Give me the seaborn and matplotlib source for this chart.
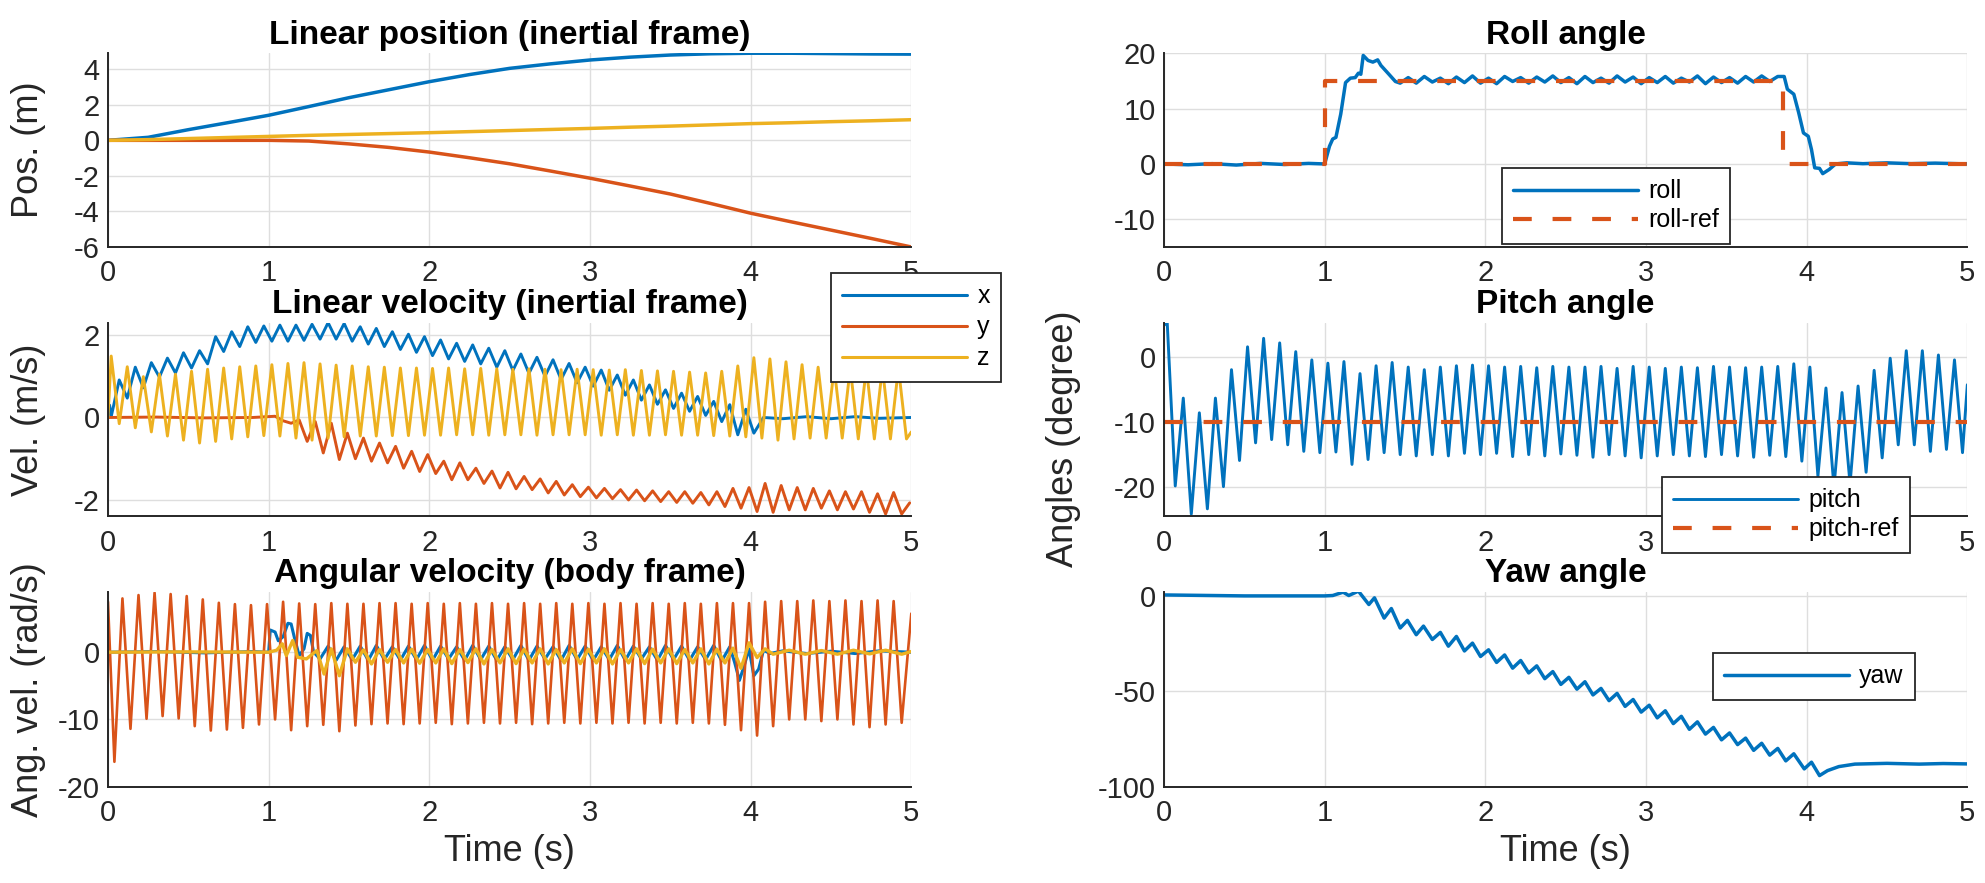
import matplotlib
matplotlib.use('Agg')
import matplotlib.pyplot as plt
from matplotlib.lines import Line2D
import seaborn as sns

BLUE, ORANGE, YELLOW = '#0072BD', '#D95319', '#EDB120'
INK = '#262626'

# ── extremum sample times (10 Hz ripple) ──────────────────────────
T_A = [0.02, 0.07, 0.12, 0.17, 0.22, 0.27, 0.32, 0.37, 0.42, 0.47,
       0.52, 0.57, 0.62, 0.67, 0.72, 0.77, 0.82, 0.87, 0.92, 0.97,
       1.02, 1.07, 1.12, 1.17, 1.22, 1.27, 1.32, 1.37, 1.42, 1.47,
       1.52, 1.57, 1.62, 1.67, 1.72, 1.77, 1.82, 1.87, 1.92, 1.97,
       2.02, 2.07, 2.12, 2.17, 2.22, 2.27, 2.32, 2.37, 2.42, 2.47,
       2.52, 2.57, 2.62, 2.67, 2.72, 2.77, 2.82, 2.87, 2.92, 2.97,
       3.02, 3.07, 3.12, 3.17, 3.22, 3.27, 3.32, 3.37, 3.42, 3.47,
       3.52, 3.57, 3.62, 3.67, 3.72, 3.77, 3.82, 3.87, 3.92, 3.97,
       4.02, 4.07, 4.12, 4.17, 4.22, 4.27, 4.32, 4.37, 4.42, 4.47,
       4.52, 4.57, 4.62, 4.67, 4.72, 4.77, 4.82, 4.87, 4.92, 4.97]
T_B = [0.04, 0.09, 0.14, 0.19, 0.24, 0.29, 0.34, 0.39, 0.44, 0.49,
       0.54, 0.59, 0.64, 0.69, 0.74, 0.79, 0.84, 0.89, 0.94, 0.99,
       1.04, 1.09, 1.14, 1.19, 1.24, 1.29, 1.34, 1.39, 1.44, 1.49,
       1.54, 1.59, 1.64, 1.69, 1.74, 1.79, 1.84, 1.89, 1.94, 1.99,
       2.04, 2.09, 2.14, 2.19, 2.24, 2.29, 2.34, 2.39, 2.44, 2.49,
       2.54, 2.59, 2.64, 2.69, 2.74, 2.79, 2.84, 2.89, 2.94, 2.99,
       3.04, 3.09, 3.14, 3.19, 3.24, 3.29, 3.34, 3.39, 3.44, 3.49,
       3.54, 3.59, 3.64, 3.69, 3.74, 3.79, 3.84, 3.89, 3.94, 3.99,
       4.04, 4.09, 4.14, 4.19, 4.24, 4.29, 4.34, 4.39, 4.44, 4.49,
       4.54, 4.59, 4.64, 4.69, 4.74, 4.79, 4.84, 4.89, 4.94, 4.99]

# ── linear position ───────────────────────────────────────────────
pos_t = [0.0, 0.25, 0.5, 0.75, 1.0, 1.25, 1.5, 1.75, 2.0, 2.25, 2.5,
         2.75, 3.0, 3.25, 3.5, 3.75, 4.0, 4.25, 4.5, 4.75, 5.0]
pos_x = [0.0, 0.17, 0.6, 1.0, 1.41, 1.9, 2.4, 2.85, 3.3, 3.7, 4.05,
         4.3, 4.52, 4.68, 4.8, 4.87, 4.9, 4.9, 4.88, 4.86, 4.85]
pos_y = [0.0, 0.0, 0.0, 0.0, 0.0, -0.04, -0.2, -0.4, -0.66, -0.98, -1.32,
         -1.72, -2.13, -2.57, -3.02, -3.55, -4.1, -4.58, -5.05, -5.52, -6.0]
pos_z = [0.0, 0.04, 0.1, 0.16, 0.22, 0.28, 0.33, 0.38, 0.43, 0.49, 0.55,
         0.61, 0.67, 0.74, 0.8, 0.87, 0.94, 0.99, 1.05, 1.1, 1.16]

# ── linear velocity ───────────────────────────────────────────────
velx_t = [0.0, 0.01] + T_A[0:81] + [4.08, 4.2, 4.35, 4.5, 4.65, 4.8, 5.0]
velx_v = [0.05, 0.3,
          0.02, 0.91, 0.47, 1.22, 0.72, 1.33, 0.98, 1.44, 1.08, 1.57,
          1.20, 1.62, 1.30, 1.96, 1.60, 2.08, 1.72, 2.20, 1.82, 2.22,
          1.85, 2.24, 1.85, 2.24, 1.87, 2.26, 1.90, 2.30, 1.90, 2.28,
          1.85, 2.20, 1.78, 2.16, 1.72, 2.08, 1.65, 2.02, 1.58, 1.96,
          1.50, 1.88, 1.42, 1.80, 1.36, 1.76, 1.30, 1.68, 1.22, 1.62,
          1.14, 1.54, 1.07, 1.46, 1.00, 1.40, 0.92, 1.31, 0.84, 1.22,
          0.76, 1.15, 0.66, 1.03, 0.54, 0.91, 0.42, 0.79, 0.32, 0.67,
          0.22, 0.59, 0.15, 0.51, 0.05, 0.39, -0.10, 0.31, -0.42, 0.20,
          -0.38,
          0.0, -0.03, 0.02, -0.03, 0.02, -0.02, 0.0]

vely_t = [0.0, 0.3, 0.6, 0.9] + T_B[20:100]
vely_v = [0.0, 0.01, -0.01, 0.0,
          0.03, -0.08, -0.14, -0.06, -0.58, -0.10, -0.86, -0.14, -1.02, -0.38,
          -1.00, -0.50, -1.06, -0.62, -1.10, -0.70, -1.23, -0.82, -1.31, -0.90,
          -1.36, -1.06, -1.51, -1.10, -1.51, -1.23, -1.60, -1.30, -1.71, -1.33,
          -1.73, -1.43, -1.75, -1.49, -1.83, -1.55, -1.88, -1.63, -1.92, -1.69,
          -1.95, -1.72, -1.97, -1.75, -2.00, -1.76, -2.02, -1.78, -2.04, -1.80,
          -2.06, -1.80, -2.08, -1.82, -2.12, -1.80, -2.16, -1.72, -2.20, -1.70,
          -2.28, -1.60, -2.30, -1.65, -2.24, -1.70, -2.24, -1.72, -2.20, -1.78,
          -2.24, -1.80, -2.22, -1.80, -2.30, -1.85, -2.34, -1.82, -2.34, -2.07]

velz_t = [0.0] + T_A + [5.0]
velz_v = [0.0,
          1.49, -0.15, 1.23, -0.25, 0.99, -0.35, 1.05, -0.45, 1.05, -0.55,
          1.12, -0.62, 1.17, -0.58, 1.20, -0.52, 1.23, -0.47, 1.25, -0.44,
          1.28, -0.45, 1.31, -0.50, 1.33, -0.55, 1.30, -0.50, 1.27, -0.47,
          1.25, -0.45, 1.23, -0.45, 1.22, -0.44, 1.20, -0.44, 1.20, -0.43,
          1.19, -0.43, 1.20, -0.42, 1.18, -0.42, 1.19, -0.43, 1.18, -0.42,
          1.17, -0.42, 1.18, -0.43, 1.17, -0.42, 1.16, -0.42, 1.17, -0.42,
          1.16, -0.43, 1.15, -0.42, 1.16, -0.43, 1.14, -0.43, 1.13, -0.42,
          1.12, -0.43, 1.10, -0.43, 1.08, -0.44, 1.12, -0.45, 1.25, -0.47,
          1.45, -0.50, 1.42, -0.55, 1.35, -0.52, 1.28, -0.50, 1.22, -0.50,
          1.20, -0.50, 1.20, -0.52, 1.20, -0.52, 1.20, -0.52, 1.20, -0.52,
          -0.35]

# ── angular velocity (body frame) ─────────────────────────────────
angx_t = ([0.0, 0.3, 0.6, 0.9, 1.0, 1.01, 1.04, 1.06, 1.09, 1.12, 1.14, 1.16,
           1.19, 1.22, 1.24, 1.26, 1.28] + T_A[26:78] +
          [3.9, 3.93, 3.96, 3.99, 4.02, 4.05, 4.08, 4.12, 4.2, 4.35, 4.5, 4.65, 4.8, 5.0])
angx_v = [0.0, 0.1, -0.1, 0.1, 0.0, 3.3, 3.0, 1.7, 2.3, 4.3, 4.2, 2.2,
          -0.5, 0.5, 2.8, 2.5, 0.0,
          -1.0, 0.9, -1.2, 0.8,
          -1.1, 0.9, -1.2, 1.0, -1.1, 0.8, -1.2, 0.9, -1.1, 1.0,
          -1.2, 0.9, -1.0, 0.8, -1.2, 1.0, -1.1, 0.9, -1.2, 0.8,
          -1.1, 1.0, -1.2, 0.9, -1.0, 0.8, -1.2, 1.0, -1.1, 0.9,
          -1.2, 0.8, -1.1, 1.0, -1.2, 0.9, -1.0, 0.8, -1.2, 1.0,
          -1.1, 0.9, -1.2, 0.8, -1.1, 1.0, -1.3, 0.8,
          -1.5, -4.2, -2.0, 0.5, -3.5, -2.5, 0.3, -0.2, 0.2, -0.2, 0.15, -0.2, 0.2, 0.0]

angy_t = [0.0] + T_B[0:99] + [5.0]
angy_v = [7.5,
          -16.3, 8.0, -11.4, 8.5, -9.9, 8.85, -9.5, 8.65, -9.85, 8.35,
          -11.0, 7.85, -11.65, 7.35, -11.5, 7.15, -11.25, 7.0, -10.75, 7.15,
          -10.0, 7.5, -11.6, 7.25, -11.0, 7.15, -10.8, 7.3, -11.75, 7.2,
          -10.9, 7.2, -10.7, 7.3, -10.6, 7.3, -10.7, 7.2, -10.6, 7.3,
          -10.5, 7.2, -10.7, 7.3, -10.6, 7.2, -10.5, 7.3, -10.6, 7.2,
          -10.5, 7.3, -10.7, 7.2, -10.6, 7.3, -10.5, 7.2, -10.6, 7.3,
          -10.5, 7.2, -10.6, 7.3, -10.5, 7.2, -10.6, 7.3, -10.5, 7.2,
          -10.6, 7.3, -10.5, 7.2, -10.6, 7.3, -10.8, 7.3, -11.6, 7.3,
          -12.4, 7.5, -11.0, 7.6, -10.0, 7.6, -10.0, 7.7, -10.25, 7.6,
          -10.0, 7.7, -10.75, 7.6, -11.15, 7.7, -10.75, 7.6, -10.5,
          5.75]

angz_t = ([0.0, 0.5, 1.0, 1.05, 1.085, 1.11, 1.15, 1.18, 1.235, 1.3, 1.345, 1.39, 1.44, 1.49]
          + T_B[30:81] +
          [4.09, 4.14, 4.24, 4.34, 4.44, 4.54, 4.64, 4.74, 4.84, 4.94, 5.0])
angz_v = [0.0, 0.05, 0.0, 0.3, 1.25, -0.5, 1.75, -0.75, -1.0, 0.25, -3.25, 0.5, -3.5, 0.5,
          -1.5, 0.35, -1.75, 0.4, -1.5, 0.4, -1.6, 0.45, -1.65, 0.4,
          -1.6, 0.5, -1.7, 0.4, -1.55, 0.5, -1.75, 0.4, -1.6, 0.5,
          -1.7, 0.45, -1.6, 0.5, -1.75, 0.4, -1.6, 0.5, -1.7, 0.45,
          -1.6, 0.5, -1.75, 0.4, -1.6, 0.5, -1.7, 0.45, -1.6, 0.5,
          -1.7, 0.4, -1.6, 0.5, -1.75, 0.45, -1.6, 0.6, -2.4, 1.4,
          -0.8,
          0.5, -0.3, 0.3, -0.3, 0.25, -0.3, 0.3, -0.25, 0.3, -0.3, 0.1]

# ── roll / pitch / yaw (degree) ───────────────────────────────────
roll_t = ([0.0, 0.15, 0.3, 0.45, 0.6, 0.75, 0.9, 1.0, 1.03, 1.05, 1.07, 1.1, 1.13,
           1.16, 1.19, 1.21, 1.225, 1.24, 1.27, 1.3, 1.33, 1.35, 1.4, 1.44]
          + T_A[29:77] +
          [3.86, 3.88, 3.92, 3.95, 3.98, 4.01, 4.03, 4.05, 4.08, 4.10, 4.14,
           4.18, 4.25, 4.35, 4.5, 4.65, 4.8, 5.0])
roll_v = [0.0, -0.15, 0.05, -0.2, 0.1, -0.1, 0.1, 0.0, 3.2, 4.5, 4.8, 9.0, 14.7,
          15.5, 15.6, 16.4, 16.2, 19.6, 18.7, 18.4, 18.8, 17.8, 16.2, 14.9,
          14.6,
          15.6, 14.6, 15.8, 14.8, 15.5, 14.5, 15.7, 14.7, 15.9, 14.6,
          15.5, 14.5, 15.8, 14.9, 15.6, 14.6, 15.7, 14.8, 15.9, 14.7,
          15.6, 14.5, 15.8, 14.7, 15.5, 14.6, 15.9, 14.8, 15.7, 14.5,
          15.6, 14.7, 15.8, 14.6, 15.5, 14.8, 15.9, 14.5, 15.7, 14.7,
          15.6, 14.6, 15.8, 14.8, 15.9, 14.9, 15.8,
          15.8, 13.5, 12.6, 9.3, 5.6, 5.0, 2.6, -0.7, -0.8, -1.75, -1.0,
          0.0, 0.2, 0.05, 0.2, 0.05, 0.15, 0.0]
roll_ref_t = [0.0, 1.0, 1.0, 3.85, 3.85, 5.0]
roll_ref_v = [0.0, 0.0, 15.0, 15.0, 0.0, 0.0]

pitch_t = [0.0] + T_A + [5.0]
pitch_v = [4.8,
           5.2, -19.8, -6.35, -24.1, -8.6, -23.3, -6.35, -19.9, -2.0, -15.9,
           1.5, -13.2, 2.8, -12.7, 2.1, -13.5, 0.76, -14.5, -0.5, -14.7,
           -1.0, -14.6, -0.76, -16.5, -2.6, -15.75, -1.4, -14.7, -0.9, -15.0,
           -1.6, -15.2, -2.0, -15.0, -1.6, -15.2, -1.4, -14.8, -1.3, -15.0,
           -1.4, -14.8, -1.6, -15.3, -1.5, -15.0, -1.7, -15.2, -1.5, -14.9,
           -1.6, -15.1, -1.6, -15.4, -1.5, -15.0, -1.8, -15.2, -1.5, -15.5,
           -1.6, -15.2, -1.8, -15.0, -1.6, -15.2, -1.7, -15.3, -1.5, -15.0,
           -1.6, -15.2, -1.7, -15.4, -1.6, -15.1, -1.5, -15.3, -1.1, -16.0,
           -1.6, -18.3, -4.8, -20.0, -5.5, -19.5, -4.5, -17.7, -2.1, -15.5,
           -0.25, -13.5, 0.9, -13.5, 0.9, -14.5, 0.25, -14.2, -0.5, -14.7,
           -4.3]
pitch_ref_t = [0.0, 5.0]
pitch_ref_v = [-10.0, -10.0]

yaw_t = ([0.0, 0.5, 1.0, 1.05, 1.115, 1.15, 1.21, 1.275, 1.31, 1.37, 1.415,
          1.47, 1.515, 1.57, 1.615, 1.67]
         + T_A[34:79] +
         [3.985, 4.03, 4.08, 4.13, 4.2, 4.3, 4.5, 4.7, 4.85, 5.0])
yaw_v = [0.3, -0.2, -0.2, 0.0, 1.75, 0.0, 2.3, -4.7, -1.2, -11.8, -6.8,
         -17.0, -13.0, -20.5, -16.0, -23.0,
         -19.3, -26.5, -21.4, -29.0, -24.9, -31.9,
         -28.4, -35.0, -31.1, -38.0, -34.0, -40.5, -36.8, -43.5, -39.8, -46.5,
         -42.8, -49.0, -45.1, -52.0, -48.6, -55.0, -51.2, -58.0, -54.4, -61.0,
         -57.4, -64.0, -60.3, -67.0, -63.2, -70.0, -66.1, -72.5, -69.0, -75.5,
         -71.9, -78.0, -74.6, -81.0, -77.3, -83.5, -80.0, -86.5, -82.8,
         -90.7, -87.2, -94.2, -91.6, -89.5, -88.2, -87.8, -88.2, -87.9, -88.1]


# ── style ─────────────────────────────────────────────────────────
sns.set_theme(style='white')
plt.rcParams['font.family'] = ['Liberation Sans', 'DejaVu Sans']
plt.rcParams['axes.unicode_minus'] = False

DASH = (4.5, 5.0)

fig = plt.figure(figsize=(19.85, 8.83), dpi=100)
LX, RX, W = 0.0544, 0.5864, 0.4047
ROWS = [(0.7203, 0.2194), (0.4156, 0.2190), (0.1091, 0.2208)]
ax_pos = fig.add_axes([LX, ROWS[0][0], W, ROWS[0][1]])
ax_vel = fig.add_axes([LX, ROWS[1][0], W, ROWS[1][1]])
ax_ang = fig.add_axes([LX, ROWS[2][0], W, ROWS[2][1]])
ax_rol = fig.add_axes([RX, ROWS[0][0], W, ROWS[0][1]])
ax_pit = fig.add_axes([RX, ROWS[1][0], W, ROWS[1][1]])
ax_yaw = fig.add_axes([RX, ROWS[2][0], W, ROWS[2][1]])


def draw(ax, t, v, color, lw, dashes=None):
    sns.lineplot(x=t, y=v, ax=ax, color=color, linewidth=lw,
                 estimator=None, sort=False, legend=False)
    ln = ax.lines[-1]
    ln.set_solid_joinstyle('round')
    if dashes is not None:
        ln.set_dashes(dashes)
    return ln


def style(ax, ylim, yticks, title):
    ax.set_xlim(0, 5)
    ax.set_ylim(*ylim)
    ax.set_xticks(range(6))
    ax.set_yticks(yticks)
    ax.grid(True, color='#dedede', linewidth=1.0)
    for s in ['top', 'right']:
        ax.spines[s].set_visible(False)
    for s in ['left', 'bottom']:
        ax.spines[s].set_color(INK)
        ax.spines[s].set_linewidth(1.4)
    ax.tick_params(direction='in', length=5.8, width=1.4, color=INK,
                   labelsize=21, labelcolor=INK)
    ax.tick_params(axis='x', pad=9)
    ax.tick_params(axis='y', pad=6)
    ax.set_title(title, fontsize=24, fontweight='bold', pad=7, color='black')
    ax.set_xlabel('')
    ax.set_ylabel('')


draw(ax_pos, pos_t, pos_x, BLUE, 2.5)
draw(ax_pos, pos_t, pos_y, ORANGE, 2.5)
draw(ax_pos, pos_t, pos_z, YELLOW, 2.5)
style(ax_pos, (-6, 4.9), [-6, -4, -2, 0, 2, 4], 'Linear position (inertial frame)')

draw(ax_vel, velx_t, velx_v, BLUE, 2.1)
draw(ax_vel, vely_t, vely_v, ORANGE, 2.1)
draw(ax_vel, velz_t, velz_v, YELLOW, 2.1)
style(ax_vel, (-2.39, 2.30), [-2, 0, 2], 'Linear velocity (inertial frame)')

draw(ax_ang, angx_t, angx_v, BLUE, 2.2)
draw(ax_ang, angy_t, angy_v, ORANGE, 1.9)
draw(ax_ang, angz_t, angz_v, YELLOW, 2.4)
style(ax_ang, (-20, 9), [-20, -10, 0], 'Angular velocity (body frame)')

draw(ax_rol, roll_t, roll_v, BLUE, 2.5)
draw(ax_rol, roll_ref_t, roll_ref_v, ORANGE, 3.0, DASH)
style(ax_rol, (-15, 20), [-10, 0, 10, 20], 'Roll angle')

draw(ax_pit, pitch_t, pitch_v, BLUE, 2.1)
draw(ax_pit, pitch_ref_t, pitch_ref_v, ORANGE, 3.0, DASH)
style(ax_pit, (-24.4, 5.2), [-20, -10, 0], 'Pitch angle')
# the "4" label sits fully under the pitch legend in the reference
ax_pit.set_xticklabels(['0', '1', '2', '3', '', '5'])

draw(ax_yaw, yaw_t, yaw_v, BLUE, 2.5)
style(ax_yaw, (-100, 2), [-100, -50, 0], 'Yaw angle')

# axis labels
for ax, lab in [(ax_pos, 'Pos. (m)'), (ax_vel, 'Vel. (m/s)'), (ax_ang, 'Ang. vel. (rad/s)')]:
    ax.set_ylabel(lab, fontsize=26, color=INK)
    ax.yaxis.set_label_coords(-0.077, 0.5)
ax_pit.set_ylabel('Angles (degree)', fontsize=26, color=INK)
ax_pit.yaxis.set_label_coords(-0.103, 0.40)
for ax in (ax_ang, ax_yaw):
    ax.set_xlabel('Time (s)', fontsize=26, color=INK, labelpad=5)


# legends
def add_legend(handles, labels, anchor, spacing):
    leg = fig.legend(handles, labels, loc='upper left', bbox_to_anchor=anchor,
                     bbox_transform=fig.transFigure, fontsize=18,
                     handlelength=5.0, handletextpad=0.4, borderpad=0.45,
                     labelspacing=spacing, borderaxespad=0, frameon=True,
                     fancybox=False, framealpha=1, edgecolor=INK)
    leg.get_frame().set_linewidth(1.3)
    for txt in leg.get_texts():
        txt.set_color('black')
    return leg


add_legend([Line2D([0], [0], color=BLUE, lw=2.2),
            Line2D([0], [0], color=ORANGE, lw=2.2),
            Line2D([0], [0], color=YELLOW, lw=2.2)],
           ['x', 'y', 'z'], (831 / 1985, 1 - 273 / 883), 0.28)
add_legend([Line2D([0], [0], color=BLUE, lw=2.5),
            Line2D([0], [0], color=ORANGE, lw=3.0, dashes=DASH)],
           ['roll', 'roll-ref'], (1502 / 1985, 1 - 168 / 883), 0.2)
add_legend([Line2D([0], [0], color=BLUE, lw=2.1),
            Line2D([0], [0], color=ORANGE, lw=3.0, dashes=DASH)],
           ['pitch', 'pitch-ref'], (1662 / 1985, 1 - 477 / 883), 0.2)
add_legend([Line2D([0], [0], color=BLUE, lw=2.5)],
           ['yaw'], (1713 / 1985, 1 - 653 / 883), 0.2)

fig.savefig('out.png', dpi=100)
